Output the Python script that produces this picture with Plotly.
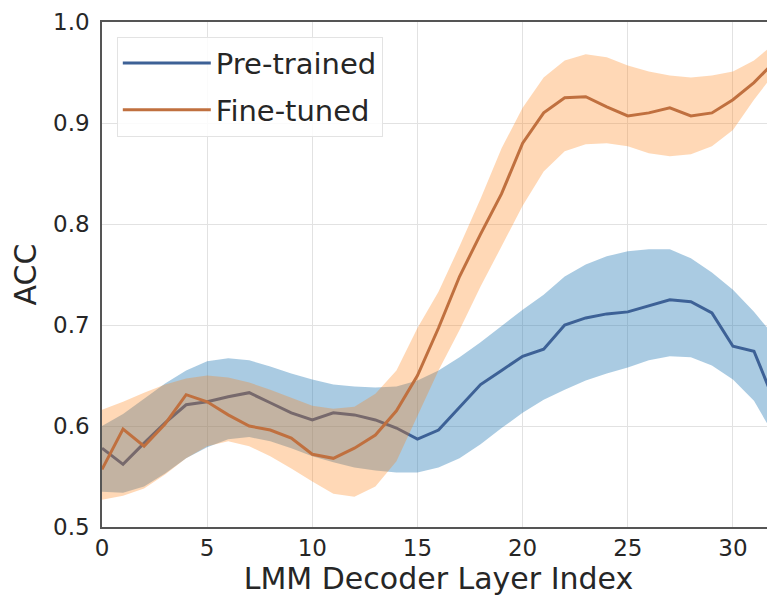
import plotly.graph_objects as go

layers = list(range(33))

pre_mean = [0.578, 0.562, 0.583, 0.603, 0.621, 0.624, 0.629, 0.633, 0.623, 0.613, 0.606,
            0.613, 0.611, 0.606, 0.598, 0.587, 0.596, 0.619, 0.641, 0.655, 0.669, 0.676,
            0.700, 0.707, 0.711, 0.713, 0.719, 0.725, 0.723, 0.712, 0.679, 0.674, 0.623]
pre_upper = [0.600, 0.612, 0.627, 0.642, 0.655, 0.664, 0.667, 0.665, 0.659, 0.652, 0.646,
             0.641, 0.639, 0.638, 0.639, 0.645, 0.655, 0.668, 0.683, 0.699, 0.715, 0.730,
             0.748, 0.760, 0.768, 0.773, 0.775, 0.775, 0.766, 0.752, 0.735, 0.713, 0.688]
pre_lower = [0.535, 0.534, 0.540, 0.553, 0.568, 0.579, 0.587, 0.589, 0.585, 0.578, 0.570,
             0.564, 0.559, 0.556, 0.554, 0.554, 0.559, 0.568, 0.582, 0.598, 0.613, 0.626,
             0.636, 0.645, 0.652, 0.658, 0.665, 0.669, 0.668, 0.660, 0.646, 0.625, 0.589]

ft_mean = [0.557, 0.597, 0.580, 0.602, 0.631, 0.624, 0.611, 0.600, 0.596, 0.588, 0.572,
           0.568, 0.578, 0.591, 0.615, 0.650, 0.697, 0.748, 0.790, 0.830, 0.880, 0.910,
           0.925, 0.926, 0.916, 0.907, 0.910, 0.915, 0.907, 0.910, 0.923, 0.940, 0.961]
ft_upper = [0.616, 0.624, 0.633, 0.641, 0.647, 0.650, 0.648, 0.643, 0.636, 0.628, 0.620,
            0.617, 0.619, 0.632, 0.655, 0.697, 0.733, 0.778, 0.825, 0.875, 0.915, 0.945,
            0.962, 0.968, 0.965, 0.957, 0.951, 0.947, 0.945, 0.947, 0.951, 0.962, 0.979]
ft_lower = [0.527, 0.531, 0.538, 0.552, 0.568, 0.580, 0.585, 0.580, 0.570, 0.558, 0.545,
            0.533, 0.530, 0.540, 0.565, 0.610, 0.655, 0.695, 0.738, 0.778, 0.818, 0.852,
            0.872, 0.879, 0.880, 0.877, 0.870, 0.867, 0.869, 0.877, 0.893, 0.923, 0.950]

series_names = ["Pre-trained", "Fine-tuned"]
x_ticks = [0, 5, 10, 15, 20, 25, 30]
y_ticks = [0.5, 0.6, 0.7, 0.8, 0.9, 1.0]

FONT = "DejaVu Sans"
BLUE_LINE = "#3d6196"
BLUE_FILL = "rgba(31,119,180,0.38)"
ORANGE_LINE = "#c0703f"
ORANGE_FILL = "rgba(255,127,14,0.30)"

fig = go.Figure()

def add_series(name, mean, upper, lower, line_color, fill_color, group):
    fig.add_trace(go.Scatter(x=layers, y=upper, mode="lines", line=dict(width=0, color=fill_color),
                             showlegend=False, hoverinfo="skip", legendgroup=group))
    fig.add_trace(go.Scatter(x=layers, y=lower, mode="lines", line=dict(width=0, color=fill_color),
                             fill="tonexty", fillcolor=fill_color, showlegend=False, hoverinfo="skip",
                             legendgroup=group))
    fig.add_trace(go.Scatter(x=layers, y=mean, mode="lines", name=name, legendgroup=group,
                             line=dict(color=line_color, width=3)))

add_series(series_names[0], pre_mean, pre_upper, pre_lower, BLUE_LINE, BLUE_FILL, "g1")
add_series(series_names[1], ft_mean, ft_upper, ft_lower, ORANGE_LINE, ORANGE_FILL, "g2")

# The page body has an 8px margin, so margins are offset to place the plot area as in the reference.
fig.update_layout(
    width=775, height=597,
    margin=dict(l=94, r=8, t=14, b=78),
    paper_bgcolor="white", plot_bgcolor="white",
    font=dict(family=FONT, color="#262626"),
    legend=dict(x=0.022, y=0.971, xanchor="left", yanchor="top", traceorder="grouped",
                tracegroupgap=6,
                bgcolor="rgba(255,255,255,0.85)", bordercolor="#e3e3e3", borderwidth=1,
                font=dict(family=FONT, size=29, color="#262626"),
                itemwidth=88),
)
fig.update_xaxes(range=[0, 32], tickvals=x_ticks, showgrid=True, gridcolor="#e2e2e2", gridwidth=1,
                 showline=True, linecolor="#555555", linewidth=1.5, mirror=True, automargin=False,
                 ticks="", tickfont=dict(family=FONT, size=23, color="#262626"),
                 title=dict(text="LMM Decoder Layer Index", font=dict(family=FONT, size=30, color="#262626"),
                            standoff=1),
                 zeroline=False)
fig.update_yaxes(range=[0.5, 1.0], tickvals=y_ticks, tickformat=".1f", showgrid=True,
                 gridcolor="#e2e2e2", gridwidth=1, automargin=False,
                 showline=True, linecolor="#555555", linewidth=1.5, mirror=True,
                 ticks="", ticklabelstandoff=6, tickfont=dict(family=FONT, size=23, color="#262626"),
                 title=dict(text="ACC", font=dict(family=FONT, size=30, color="#262626"), standoff=9),
                 zeroline=False)

fig.write_html("out.html")
